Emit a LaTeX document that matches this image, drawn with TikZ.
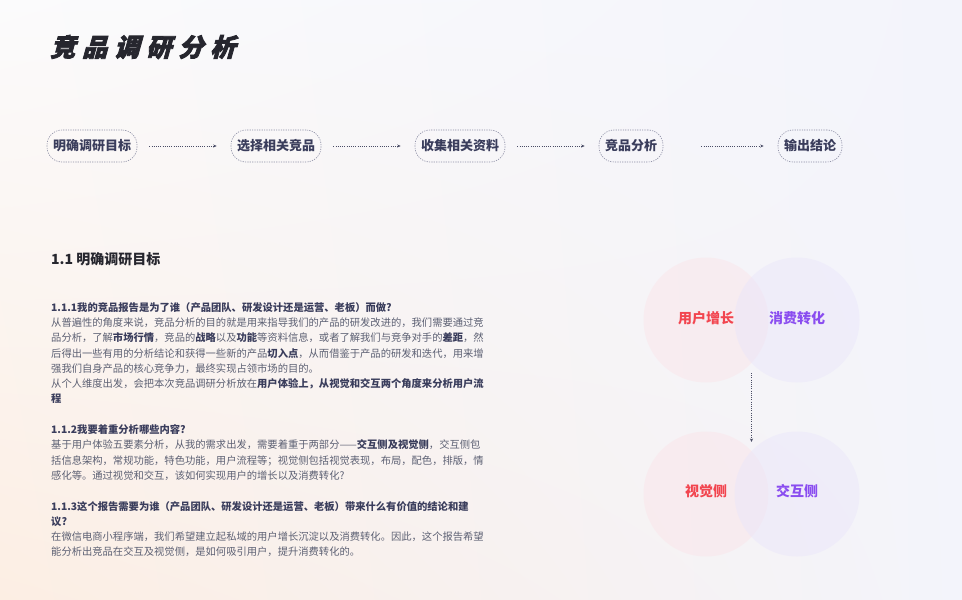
\documentclass[tikz,border=0pt]{standalone}
\usepackage{fontspec}
\setmainfont{Noto Sans CJK SC}
\newfontfamily\titlefont[FakeSlant=0.28,FakeBold=3,LetterSpace=28]{Noto Sans CJK SC}
\usepackage{xcolor}
\usetikzlibrary{positioning, arrows.meta, calc, shadings}
\definecolor{NavyText}{HTML}{3A3D5C}
\definecolor{BodyGray}{HTML}{5C6073}
\definecolor{HeadBlack}{HTML}{26262E}
\definecolor{DashGray}{HTML}{8A8CA3}
\definecolor{ArrowDark}{HTML}{4A4D66}
\definecolor{GrowRed}{HTML}{F2454F}
\definecolor{ConvPurple}{HTML}{8A4DF0}
\definecolor{LightPink}{HTML}{FBE3E8}
\definecolor{LightLilac}{HTML}{E9E5FB}
\definecolor{BgPeach}{HTML}{FCEEE3}
\definecolor{BgWhite}{HTML}{FBFBFC}
\definecolor{BgLilac}{HTML}{F3F4FB}

\begin{document}
\begin{tikzpicture}[
  x=1pt, y=-1pt,
  >={Stealth[length=3.5pt,width=3pt]},
  stepnode/.style={draw=DashGray, dash pattern=on 1.2pt off 1.2pt, line width=0.6pt,
                   rounded corners=15pt, minimum height=32pt, inner xsep=6pt,
                   font=\bfseries\fontsize{13}{13}\selectfont, text=NavyText},
  steparr/.style={->, color=ArrowDark, line width=0.6pt, dash pattern=on 1pt off 1.2pt,
                  shorten <=12pt, shorten >=14pt},
  pinkcirc/.style={circle, fill=LightPink, fill opacity=0.45, minimum size=125pt, inner sep=0pt},
  lilaccirc/.style={circle, fill=LightLilac, fill opacity=0.45, minimum size=125pt, inner sep=0pt},
  circlbl/.style={font=\bfseries\fontsize{14}{14}\selectfont},
]
  % background
  \shade[lower left=BgPeach, upper left=BgWhite, lower right=BgLilac, upper right=BgLilac]
    (0,0) rectangle (962,600);
  \useasboundingbox (0,0) rectangle (962,600);

  % title
  \node[anchor=west, inner sep=0pt, text=HeadBlack, font=\titlefont\bfseries\fontsize{25}{25}\selectfont]
    (title) at (50,47) {竞品调研分析};

  %% process row
  \node[stepnode] (goal)    at (92,146)  {明确调研目标};
  \node[stepnode] (pick)    at (276,146) {选择相关竞品};
  \node[stepnode] (collect) at (460,146) {收集相关资料};
  \node[stepnode] (analyse) at (631,146) {竞品分析};
  \node[stepnode] (output)  at (810,146) {输出结论};

  \draw[steparr] (goal) -- (pick);
  \draw[steparr] (pick) -- (collect);
  \draw[steparr] (collect) -- (analyse);
  \draw[steparr, shorten <=38pt] (analyse) -- (output);

  % section heading
  \node[anchor=west, inner sep=0pt, text=HeadBlack, font=\bfseries\fontsize{14}{14}\selectfont]
    (heading) at (51,259) {1.1 明确调研目标};

  % body text
  \node[anchor=north west, inner sep=0pt, align=left, text=BodyGray,
        font=\fontsize{10.3}{15.3}\selectfont]
    (body) at (51,302) {%
    {\bfseries\color{NavyText}1.1.1我的竞品报告是为了谁（产品团队、研发设计还是运营、老板）而做?}\\
    从普遍性的角度来说，竞品分析的目的就是用来指导我们的产品的研发改进的，我们需要通过竞\\
    品分析，了解{\bfseries\color{NavyText}市场行情}，竞品的{\bfseries\color{NavyText}战略}以及{\bfseries\color{NavyText}功能}等资料信息，或者了解我们与竞争对手的{\bfseries\color{NavyText}差距}，然\\
    后得出一些有用的分析结论和获得一些新的产品{\bfseries\color{NavyText}切入点}，从而借鉴于产品的研发和迭代，用来增\\
    强我们自身产品的核心竞争力，最终实现占领市场的目的。\\
    从个人维度出发，会把本次竞品调研分析放在{\bfseries\color{NavyText}用户体验上，从视觉和交互两个角度来分析用户流}\\
    {\bfseries\color{NavyText}程}\\[15.3pt]
    {\bfseries\color{NavyText}1.1.2我要着重分析哪些内容?}\\
    基于用户体验五要素分析，从我的需求出发，需要着重于两部分——{\bfseries\color{NavyText}交互侧及视觉侧}，交互侧包\\
    括信息架构，常规功能，特色功能，用户流程等；视觉侧包括视觉表现，布局，配色，排版，情\\
    感化等。通过视觉和交互，该如何实现用户的增长以及消费转化?\\[15.3pt]
    {\bfseries\color{NavyText}1.1.3这个报告需要为谁（产品团队、研发设计还是运营、老板）带来什么有价值的结论和建}\\
    {\bfseries\color{NavyText}议?}\\
    在微信电商小程序端，我们希望建立起私域的用户增长沉淀以及消费转化。因此，这个报告希望\\
    能分析出竞品在交互及视觉侧，是如何吸引用户，提升消费转化的。};

  %% circles: goals
  \node[pinkcirc]  (growc) at (706,320) {};
  \node[lilaccirc] (convc) at (797,320) {};
  \node[circlbl, text=GrowRed]    (grow) at (706,318) {用户增长};
  \node[circlbl, text=ConvPurple] (conv) at (797,318) {消费转化};

  %% circles: sides
  \node[pinkcirc]  (visc) at (706,494) {};
  \node[lilaccirc] (intc) at (797,494) {};
  \node[circlbl, text=GrowRed]    (visual) at (706,491) {视觉侧};
  \node[circlbl, text=ConvPurple] (inter)  at (797,491) {交互侧};

  \coordinate (toplow)  at ($(growc)!0.5!(convc)+(0,43)$);
  \coordinate (bottop)  at ($(visc)!0.5!(intc)+(0,-43)$);
  \draw[steparr, shorten <=10pt, shorten >=9pt] (toplow) -- (bottop);

\end{tikzpicture}
\end{document}
